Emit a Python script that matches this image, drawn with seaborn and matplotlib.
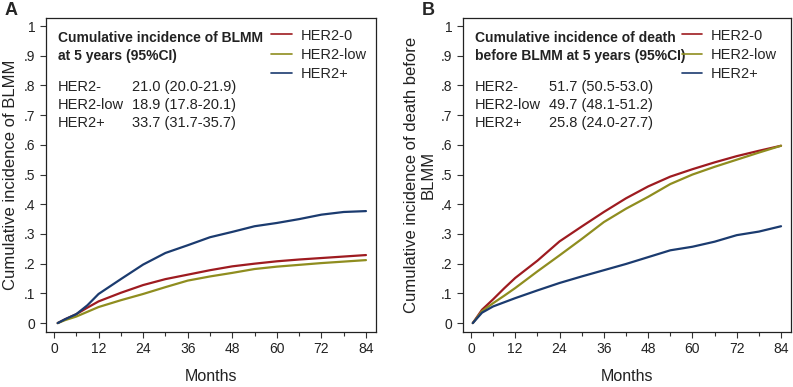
import numpy as np
import pandas as pd
import matplotlib
matplotlib.use("Agg")
import matplotlib.pyplot as plt
import seaborn as sns
from matplotlib.lines import Line2D
from matplotlib.ticker import MultipleLocator, FuncFormatter

sns.set_style("white")
plt.rcParams['font.family'] = ['Liberation Sans', 'DejaVu Sans']

groups = ["HER2-0", "HER2-low", "HER2+"]
colors = ["#9e1b20", "#8f8d1f", "#1b3b6f"]

months_a = [1, 3, 6, 9, 12, 18, 24, 30, 36, 42, 48, 54, 60, 66, 72, 78, 84]
a_her2_0 = [0, 0.013, 0.03, 0.052, 0.073, 0.102, 0.128, 0.148, 0.163, 0.178, 0.191, 0.200, 0.208, 0.214, 0.219, 0.224, 0.229]
a_her2_low = [0, 0.010, 0.022, 0.038, 0.054, 0.077, 0.098, 0.121, 0.143, 0.157, 0.169, 0.182, 0.190, 0.196, 0.202, 0.207, 0.212]
a_her2_pos = [0, 0.013, 0.030, 0.060, 0.098, 0.148, 0.197, 0.236, 0.262, 0.289, 0.307, 0.326, 0.337, 0.350, 0.365, 0.374, 0.377]

months_b = [0.5, 3, 6, 9, 12, 18, 24, 30, 36, 42, 48, 54, 60, 66, 72, 78, 84]
b_her2_0 = [0, 0.045, 0.080, 0.117, 0.152, 0.210, 0.275, 0.325, 0.374, 0.420, 0.460, 0.493, 0.518, 0.541, 0.562, 0.580, 0.597]
b_her2_low = [0, 0.040, 0.067, 0.092, 0.118, 0.174, 0.228, 0.283, 0.340, 0.385, 0.425, 0.468, 0.500, 0.526, 0.550, 0.574, 0.597]
b_her2_pos = [0, 0.035, 0.056, 0.070, 0.084, 0.110, 0.135, 0.157, 0.178, 0.199, 0.222, 0.245, 0.257, 0.274, 0.296, 0.308, 0.326]

box_a_title = ["Cumulative incidence of BLMM", "at 5 years (95%CI)"]
box_b_title = ["Cumulative incidence of death", "before BLMM at 5 years (95%CI)"]
row_labels = ["HER2-", "HER2-low", "HER2+"]
box_a_vals = ["21.0 (20.0-21.9)", "18.9 (17.8-20.1)", "33.7 (31.7-35.7)"]
box_b_vals = ["51.7 (50.5-53.0)", "49.7 (48.1-51.2)", "25.8 (24.0-27.7)"]


def make_df(months, series):
    rows = []
    for g, vals in zip(groups, series):
        for m, v in zip(months, vals):
            rows.append({"Months": m, "CI": v, "Group": g})
    return pd.DataFrame(rows)


df_a = make_df(months_a, [a_her2_0, a_her2_low, a_her2_pos])
df_b = make_df(months_b, [b_her2_0, b_her2_low, b_her2_pos])

fig = plt.figure(figsize=(7.93, 3.87), dpi=100)
ax_a = fig.add_axes([46/793, 55/387, 330/793, 314/387])
ax_b = fig.add_axes([463/793, 55/387, 328/793, 314/387])

fmt = FuncFormatter(lambda v, p: "0" if abs(v) < 1e-9 else ("1" if abs(v-1) < 1e-9 else ("%.1f" % v).lstrip("0")))

for ax, df, ylabel, title, vals, letter, leg_x in [
    (ax_a, df_a, "Cumulative incidence of BLMM", box_a_title, box_a_vals, "A", 0.665),
    (ax_b, df_b, "Cumulative incidence of death before\nBLMM", box_b_title, box_b_vals, "B", 0.649),
]:
    sns.lineplot(data=df, x="Months", y="CI", hue="Group", hue_order=groups,
                 palette=colors, ax=ax, legend=False, linewidth=1.6, estimator=None)
    ax.set_xlim(-2.15, 86.7)
    ax.set_ylim(-0.03, 1.027)
    ax.xaxis.set_minor_locator(MultipleLocator(6))
    ax.set_xticks(np.arange(0, 85, 12))
    ax.set_yticks(np.round(np.arange(0, 1.01, 0.1), 1))
    ax.yaxis.set_major_formatter(fmt)
    ax.tick_params(axis="both", which="major", direction="out", length=4, width=0.8,
                   colors="#333333", labelsize=10, labelcolor="#222222", bottom=True, left=True)
    ax.tick_params(axis="x", which="minor", direction="out", length=3, width=0.8,
                   colors="#333333", bottom=True)
    for s in ax.spines.values():
        s.set_color("#222222")
        s.set_linewidth(0.9)
    ax.set_xlabel("Months", fontsize=11.5, color="#222222", labelpad=9)
    ax.set_ylabel(ylabel, fontsize=12, color="#222222", labelpad=4, linespacing=1.1)
    ax.text(0.037, 0.922, title[0], transform=ax.transAxes, fontsize=10, fontweight="bold",
            va="baseline", ha="left", color="#222222")
    ax.text(0.037, 0.866, title[1], transform=ax.transAxes, fontsize=10, fontweight="bold",
            va="baseline", ha="left", color="#222222")
    for i, (lab, val) in enumerate(zip(row_labels, vals)):
        y = 0.768 - i * 0.0575
        ax.text(0.037, y, lab, transform=ax.transAxes, fontsize=10.5, va="baseline", ha="left", color="#222222")
        ax.text(0.262, y, val, transform=ax.transAxes, fontsize=10.5, va="baseline", ha="left", color="#222222")
    handles = [Line2D([0], [0], color=c, lw=1.2) for c in colors]
    ax.legend(handles, groups, loc="upper left", bbox_to_anchor=(leg_x, 0.985), frameon=False,
              fontsize=10.5, handlelength=1.4, handletextpad=0.6, labelspacing=0.35,
              borderaxespad=0)
    fig.text(ax.get_position().x0 - 41/793, 0.995, letter, fontsize=13, fontweight="bold",
             va="top", ha="left")

fig.savefig("out.png", dpi=100)
